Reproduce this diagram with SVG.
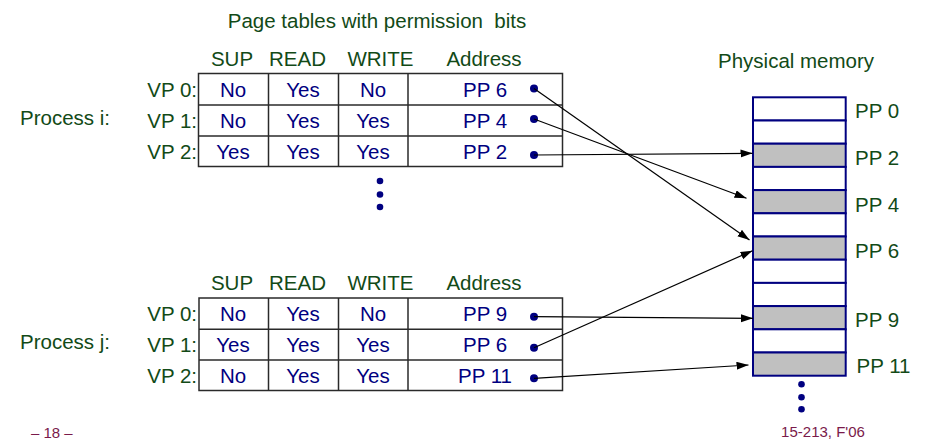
<svg xmlns="http://www.w3.org/2000/svg" width="928" height="442" viewBox="0 0 928 442">
<defs>
<marker id="ah" markerUnits="userSpaceOnUse" markerWidth="13" markerHeight="9" refX="12" refY="4" orient="auto">
<path d="M0,0 L12,4 L0,8 z" fill="#000"/>
</marker>
<style>
text{font-family:"Liberation Sans",Arial,sans-serif;font-size:20.5px}
.g{fill:#124a17}
.b{fill:#000080}
.c{text-anchor:middle}
.r{text-anchor:end}
.tb{fill:#fff;stroke:#2a2a2a;stroke-width:1.5}
.tl{stroke:#2a2a2a;stroke-width:1.5}
.mw{fill:#fff;stroke:#000080;stroke-width:2}
.mg{fill:#c0c0c0;stroke:#000080;stroke-width:2}
.dot{fill:#000080}
.ar{stroke:#000;stroke-width:1.2;fill:none;marker-end:url(#ah)}
.f{font-size:15px;fill:#7a1a4a}
</style>
</defs>
<rect width="928" height="442" fill="#fff"/>

<text class="g c" x="377" y="28">Page tables with permission&#160; bits</text>

<g id="table-i">
<text class="g" x="20" y="125">Process i:</text>
<text class="g c" x="232" y="66">SUP</text>
<text class="g c" x="297.5" y="66">READ</text>
<text class="g c" x="380.5" y="66">WRITE</text>
<text class="g c" x="484" y="66">Address</text>
<rect class="tb" x="198.5" y="73.5" width="364" height="93"/>
<line class="tl" x1="198.5" y1="105" x2="562.5" y2="105"/>
<line class="tl" x1="198.5" y1="136" x2="562.5" y2="136"/>
<line class="tl" x1="268.5" y1="73.5" x2="268.5" y2="166.5"/>
<line class="tl" x1="338.5" y1="73.5" x2="338.5" y2="166.5"/>
<line class="tl" x1="408" y1="73.5" x2="408" y2="166.5"/>
<text class="g r" x="197" y="96.5">VP 0:</text>
<text class="g r" x="197" y="127.5">VP 1:</text>
<text class="g r" x="197" y="158.5">VP 2:</text>
<text class="b c" x="233" y="96.5">No</text>
<text class="b c" x="303" y="96.5">Yes</text>
<text class="b c" x="373" y="96.5">No</text>
<text class="b c" x="485" y="96.5">PP 6</text>
<text class="b c" x="233" y="127.5">No</text>
<text class="b c" x="303" y="127.5">Yes</text>
<text class="b c" x="373" y="127.5">Yes</text>
<text class="b c" x="485" y="127.5">PP 4</text>
<text class="b c" x="233" y="158.5">Yes</text>
<text class="b c" x="303" y="158.5">Yes</text>
<text class="b c" x="373" y="158.5">Yes</text>
<text class="b c" x="485" y="158.5">PP 2</text>
<circle class="dot" cx="534" cy="88.5" r="4"/>
<circle class="dot" cx="534" cy="119" r="4"/>
<circle class="dot" cx="534" cy="155" r="4"/>
<circle class="dot" cx="380" cy="181" r="3.3"/>
<circle class="dot" cx="380" cy="194.5" r="3.3"/>
<circle class="dot" cx="380" cy="207" r="3.3"/>
</g>

<g id="table-j">
<text class="g" x="20" y="349">Process j:</text>
<text class="g c" x="232" y="290">SUP</text>
<text class="g c" x="297.5" y="290">READ</text>
<text class="g c" x="380.5" y="290">WRITE</text>
<text class="g c" x="484" y="290">Address</text>
<rect class="tb" x="199" y="298" width="363.5" height="92.5"/>
<line class="tl" x1="199" y1="329.3" x2="562.5" y2="329.3"/>
<line class="tl" x1="199" y1="360" x2="562.5" y2="360"/>
<line class="tl" x1="268.5" y1="298" x2="268.5" y2="390.5"/>
<line class="tl" x1="338.5" y1="298" x2="338.5" y2="390.5"/>
<line class="tl" x1="408" y1="298" x2="408" y2="390.5"/>
<text class="g r" x="197" y="320.5">VP 0:</text>
<text class="g r" x="197" y="351.5">VP 1:</text>
<text class="g r" x="197" y="382.5">VP 2:</text>
<text class="b c" x="233" y="320.5">No</text>
<text class="b c" x="303" y="320.5">Yes</text>
<text class="b c" x="373" y="320.5">No</text>
<text class="b c" x="485" y="320.5">PP 9</text>
<text class="b c" x="233" y="351.5">Yes</text>
<text class="b c" x="303" y="351.5">Yes</text>
<text class="b c" x="373" y="351.5">Yes</text>
<text class="b c" x="485" y="351.5">PP 6</text>
<text class="b c" x="233" y="382.5">No</text>
<text class="b c" x="303" y="382.5">Yes</text>
<text class="b c" x="373" y="382.5">Yes</text>
<text class="b c" x="485" y="382.5">PP 11</text>
<circle class="dot" cx="534" cy="316.7" r="4"/>
<circle class="dot" cx="534" cy="347.7" r="4"/>
<circle class="dot" cx="534" cy="378.3" r="4"/>
</g>

<g id="physical-memory">
<text class="g" x="718" y="68">Physical memory</text>
<rect class="mw" x="753" y="97.3" width="92.7" height="23.2"/>
<rect class="mw" x="753" y="120.5" width="92.7" height="23.2"/>
<rect class="mg" x="753" y="143.7" width="92.7" height="23.2"/>
<rect class="mw" x="753" y="166.9" width="92.7" height="23.2"/>
<rect class="mg" x="753" y="190.1" width="92.7" height="23.2"/>
<rect class="mw" x="753" y="213.3" width="92.7" height="23.2"/>
<rect class="mg" x="753" y="236.5" width="92.7" height="23.2"/>
<rect class="mw" x="753" y="259.7" width="92.7" height="23.2"/>
<rect class="mw" x="753" y="282.9" width="92.7" height="23.2"/>
<rect class="mg" x="753" y="306.1" width="92.7" height="23.2"/>
<rect class="mw" x="753" y="329.3" width="92.7" height="23.2"/>
<rect class="mg" x="753" y="352.5" width="92.7" height="23.2"/>
<text class="g" x="855" y="118">PP 0</text>
<text class="g" x="855" y="165">PP 2</text>
<text class="g" x="855" y="211.5">PP 4</text>
<text class="g" x="855" y="257.5">PP 6</text>
<text class="g" x="855" y="326.5">PP 9</text>
<text class="g" x="856.5" y="372.5">PP 11</text>
<circle class="dot" cx="801.5" cy="384.3" r="3.3"/>
<circle class="dot" cx="801.5" cy="397.3" r="3.3"/>
<circle class="dot" cx="801.5" cy="409.3" r="3.3"/>
</g>

<g id="connectors">
<line class="ar" x1="534" y1="88.5" x2="749.5" y2="240"/>
<line class="ar" x1="534" y1="119" x2="746.5" y2="198.3"/>
<line class="ar" x1="534" y1="155" x2="752.5" y2="153.3"/>
<line class="ar" x1="534" y1="316.7" x2="753" y2="318.3"/>
<line class="ar" x1="534" y1="347.7" x2="752.5" y2="250.7"/>
<line class="ar" x1="534" y1="378.3" x2="748.5" y2="365"/>
</g>

<text class="f" x="31" y="438">– 18 –</text>
<text class="f c" x="823" y="437">15-213, F'06</text>
</svg>
